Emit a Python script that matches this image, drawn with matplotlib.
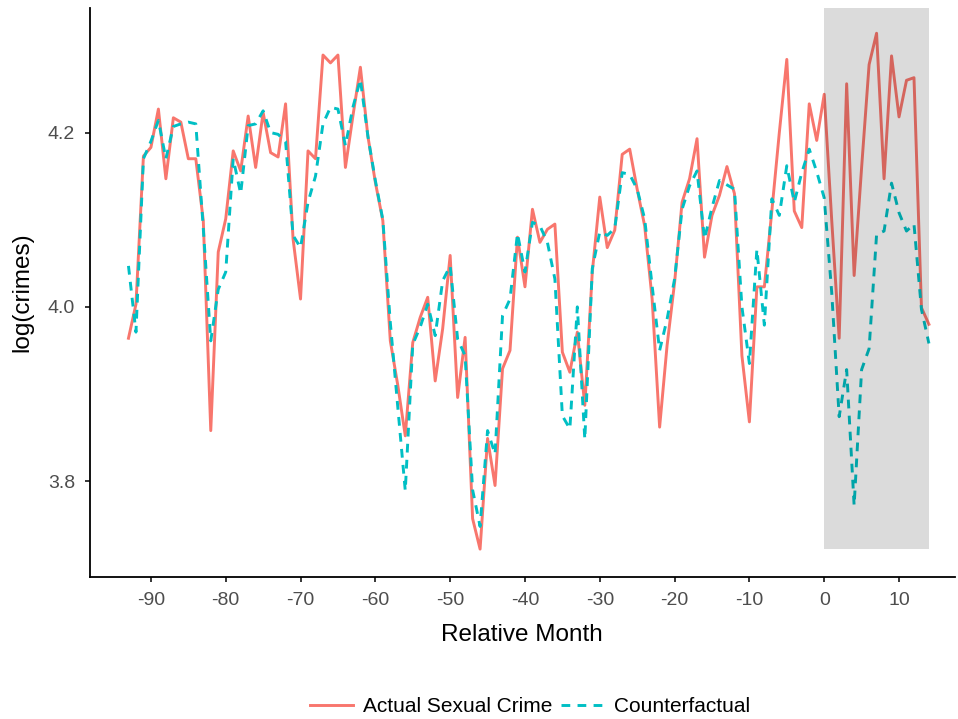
import matplotlib.pyplot as plt

# relative month (x) and log crime counts
months = list(range(-93, 15))

actual = [
    3.964, 4.003, 4.173, 4.183, 4.227, 4.147, 4.217, 4.212, 4.170, 4.170,   # -93..-84
    4.099, 3.858, 4.063, 4.101, 4.179, 4.156, 4.219, 4.160, 4.223, 4.177,   # -83..-74
    4.172, 4.233, 4.078, 4.009, 4.179, 4.170, 4.289, 4.280, 4.289, 4.160,   # -73..-64
    4.219, 4.275, 4.196, 4.143, 4.099, 3.961, 3.910, 3.852, 3.959, 3.988,   # -63..-54
    4.011, 3.915, 3.975, 4.059, 3.896, 3.965, 3.757, 3.722, 3.849, 3.795,   # -53..-44
    3.929, 3.950, 4.080, 4.023, 4.112, 4.074, 4.089, 4.095, 3.948, 3.925,   # -43..-34
    3.971, 3.887, 4.040, 4.126, 4.068, 4.088, 4.175, 4.181, 4.135, 4.093,   # -33..-24
    4.009, 3.862, 3.956, 4.028, 4.120, 4.147, 4.193, 4.057, 4.105, 4.128,   # -23..-14
    4.161, 4.130, 3.944, 3.868, 4.023, 4.023, 4.110, 4.200, 4.284, 4.110,   # -13..-4
    4.091, 4.233, 4.191, 4.244, 4.100, 3.964, 4.256, 4.036, 4.160, 4.278,   # -3..6
    4.314, 4.147, 4.288, 4.218, 4.260, 4.263, 3.999, 3.980,                 # 7..14
]

counterfactual = [
    4.047, 3.971, 4.170, 4.190, 4.214, 4.170, 4.207, 4.210, 4.212, 4.210,
    4.090, 3.961, 4.020, 4.040, 4.170, 4.130, 4.208, 4.210, 4.225, 4.200,
    4.198, 4.190, 4.082, 4.068, 4.120, 4.150, 4.210, 4.229, 4.227, 4.185,
    4.229, 4.261, 4.196, 4.145, 4.100, 3.982, 3.885, 3.789, 3.957, 3.977,
    4.003, 3.967, 4.030, 4.047, 3.963, 3.944, 3.790, 3.748, 3.858, 3.831,
    3.990, 4.009, 4.084, 4.040, 4.097, 4.093, 4.074, 4.032, 3.875, 3.860,
    4.000, 3.848, 4.044, 4.086, 4.082, 4.090, 4.154, 4.152, 4.135, 4.101,
    4.024, 3.950, 3.986, 4.032, 4.112, 4.139, 4.156, 4.078, 4.114, 4.145,
    4.140, 4.135, 4.000, 3.935, 4.066, 3.979, 4.124, 4.105, 4.162, 4.120,
    4.154, 4.181, 4.155, 4.125, 4.017, 3.874, 3.928, 3.772, 3.928, 3.952,
    4.083, 4.087, 4.142, 4.108, 4.087, 4.095, 3.997, 3.958,
]

xticks = list(range(-90, 11, 10))
yticks = [3.8, 4.0, 4.2]
shade_start, shade_end = 0, 14

plt.rcParams['font.family'] = ['Liberation Sans', 'DejaVu Sans']
plt.rcParams['axes.unicode_minus'] = False

fig = plt.figure(figsize=(9.58, 7.19), dpi=100)
ax = fig.add_axes([0.0935, 0.1975, 0.9035, 0.7914])

ax.plot(months, actual, color='#F8766D', lw=2.1, label='Actual Sexual Crime')
ax.plot(months, counterfactual, color='#00BFC4', lw=2.1, dashes=(3, 2.5),
        label='Counterfactual')

ax.set_xlim(-98.2, 17.5)
ax.set_ylim(3.690, 4.343)
ytop = ax.get_ylim()[1]
ax.fill_between([shade_start, shade_end], min(actual), ytop,
                color='black', alpha=0.14, lw=0, zorder=5)

ax.set_xticks(xticks)
ax.set_yticks(yticks)
ax.set_yticklabels(['%.1f' % v for v in yticks])

for s in ['top', 'right']:
    ax.spines[s].set_visible(False)
for s in ['left', 'bottom']:
    ax.spines[s].set_linewidth(1.3)
ax.tick_params(axis='both', length=3.6, width=1.1, colors='black',
               labelcolor='#4D4D4D', labelsize=14, pad=7)

ax.set_xlabel('Relative Month', fontsize=17.5, labelpad=11)
ax.set_ylabel('log(crimes)', fontsize=17.5, labelpad=10)

fig.legend(loc='lower center', bbox_to_anchor=(0.553, -0.022), ncol=2,
           frameon=False, fontsize=15, handlelength=2.1, columnspacing=0.4,
           handletextpad=0.45)

fig.savefig('out.png', dpi=100)
